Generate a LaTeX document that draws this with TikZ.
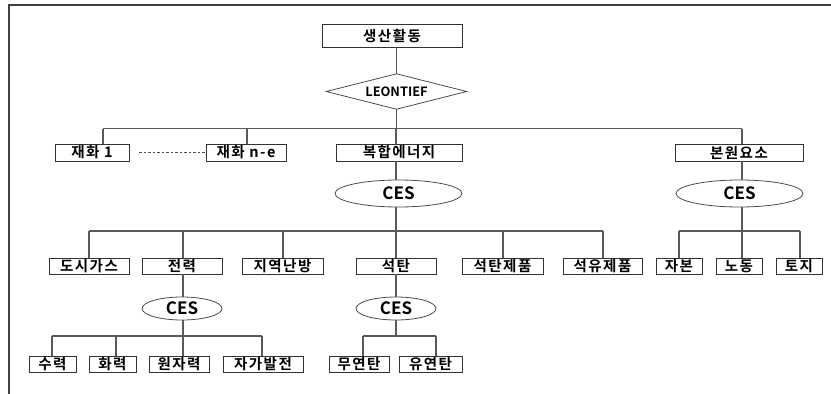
\documentclass[tikz,border=0pt]{standalone}
\usepackage{fontspec}
\setmainfont{Noto Sans CJK KR}[BoldFont={Noto Sans CJK KR Bold}]
\newfontfamily\krsp{Noto Sans CJK KR Bold}[LetterSpace=10]
\usetikzlibrary{shapes.geometric}
\begin{document}
\begin{tikzpicture}[x=1pt,y=-1pt,
  conn/.style={draw=black!65, line width=1.1pt},
  frame/.style={draw=black!75, line width=1.2pt},
  box/.style={draw=black!80, line width=0.9pt, inner sep=0pt, minimum height=16pt, font=\krsp\fontsize{14.5}{15}\selectfont},
  ces/.style={ellipse, draw=black!70, line width=0.8pt, inner sep=0pt, font=\bfseries\fontsize{17}{18}\selectfont}
]
\useasboundingbox (0,0) rectangle (831,394);
% frame
\coordinate (fTL) at (9,5);
\coordinate (fTR) at (831,5);
\coordinate (fBL) at (9,394);
\draw[frame] (fTR) -- (fTL) -- (fBL);

% top
\node[box, minimum width=140pt, minimum height=23pt] (top) at (392,36) {생산활동};
\node[inner sep=0pt, minimum width=140pt, minimum height=35pt, font=\bfseries\fontsize{12.8}{14}\selectfont] (leo) at (396.5,91.5) {LEONTIEF};
\draw[draw=black!70, line width=0.8pt] (leo.west) -- (leo.north) -- (leo.east) -- (leo.south) -- cycle;
\draw[conn] (leo.north |- top.south) -- (leo.north);

% level 1
\node[box, minimum width=74pt, minimum height=17pt] (g1) at (92,152.5) {재화 1};
\node[box, minimum width=80pt, minimum height=17pt] (gn) at (246,152.5) {재화 n-e};
\node[box, minimum width=126pt, minimum height=17pt] (bh) at (399,152.5) {복합에너지};
\node[box, minimum width=128pt, minimum height=17pt] (bw) at (739,152.5) {본원요소};
\draw[draw=black!70, line width=0.8pt, dash pattern=on 2.5pt off 2pt] (g1.east) ++(10,0) coordinate (dA) -- (gn.west) ++(-15,0) coordinate (dB);

\coordinate (b1L) at (103,128.7);
\coordinate (b1R) at (742,128.7);
\coordinate (b1n) at (247,128.7);
\coordinate (b1b) at (396,128.7);
\draw[conn] (b1L) -- (b1R);
\draw[conn] (leo.south) -- (leo.south |- b1L);
\draw[conn] (b1L) -- (b1L |- g1.north);
\draw[conn] (b1n) -- (b1n |- gn.north);
\draw[conn] (b1b) -- (b1b |- bh.north);
\draw[conn] (b1R) -- (b1R |- bw.north);

% CES level 1
\node[ces, minimum width=127pt, minimum height=27pt] (c1) at (398.5,193.5) {CES};
\node[ces, minimum width=127pt, minimum height=27pt] (c2) at (739.5,193.5) {CES};
\draw[conn] (b1b |- bh.south) -- (b1b |- c1.north);
\draw[conn] (b1R |- bw.south) -- (b1R |- c2.north);

% level 2
\node[box, minimum width=80pt] (dosi) at (89,266) {도시가스};
\node[box, minimum width=80pt] (jr) at (182,266) {전력};
\node[box, minimum width=81pt] (jy) at (282.5,266) {지역난방};
\node[box, minimum width=80pt] (st) at (396,266) {석탄};
\node[box, minimum width=81pt] (stj) at (502.5,266) {석탄제품};
\node[box, minimum width=79pt] (syj) at (602.5,266) {석유제품};
\node[box, minimum width=46pt] (jb) at (679,266) {자본};
\node[box, minimum width=46pt] (nd) at (739,266) {노동};
\node[box, minimum width=46pt] (tj) at (799,266) {토지};

\coordinate (b2L) at (89,231);
\coordinate (b2R) at (603,231);
\coordinate (b2a) at (183,231);
\coordinate (b2b) at (283,231);
\coordinate (b2c) at (396,231);
\coordinate (b2d) at (503,231);
\draw[conn] (b2L) -- (b2R);
\draw[conn] (b2c |- c1.south) -- (b2c);
\draw[conn] (b2L) -- (b2L |- dosi.north);
\draw[conn] (b2a) -- (b2a |- jr.north);
\draw[conn] (b2b) -- (b2b |- jy.north);
\draw[conn] (b2c) -- (b2c |- st.north);
\draw[conn] (b2d) -- (b2d |- stj.north);
\draw[conn] (b2R) -- (b2R |- syj.north);

\coordinate (b3L) at (679,231);
\coordinate (b3M) at (742,231);
\coordinate (b3R) at (800,231);
\draw[conn] (b3L) -- (b3R);
\draw[conn] (b3M |- c2.south) -- (b3M);
\draw[conn] (b3L) -- (b3L |- jb.north);
\draw[conn] (b3M) -- (b3M |- nd.north);
\draw[conn] (b3R) -- (b3R |- tj.north);

% CES level 2
\node[ces, minimum width=80pt, minimum height=23pt] (c3) at (182,308.5) {CES};
\node[ces, minimum width=80pt, minimum height=23pt] (c4) at (396,308.5) {CES};
\draw[conn] (b2a |- jr.south) -- (b2a |- c3.north);
\draw[conn] (b2c |- st.south) -- (b2c |- c4.north);

% level 3
\node[box, minimum width=47pt] (sr) at (52.5,364) {수력};
\node[box, minimum width=47pt] (hr) at (112.5,364) {화력};
\node[box, minimum width=60pt] (wj) at (179,364) {원자력};
\node[box, minimum width=80pt] (jg) at (263,364) {자가발전};
\node[box, minimum width=60pt] (my) at (359,364) {무연탄};
\node[box, minimum width=63pt] (yy) at (430.5,364) {유연탄};

\coordinate (b4L) at (52,336);
\coordinate (b4a) at (116,336);
\coordinate (b4b) at (183,336);
\coordinate (b4R) at (262,336);
\draw[conn] (b4L) -- (b4R);
\draw[conn] (b4b |- c3.south) -- (b4b);
\draw[conn] (b4L) -- (b4L |- sr.north);
\draw[conn] (b4a) -- (b4a |- hr.north);
\draw[conn] (b4b) -- (b4b |- wj.north);
\draw[conn] (b4R) -- (b4R |- jg.north);

\coordinate (b5L) at (363,336);
\coordinate (b5M) at (396,336);
\coordinate (b5R) at (436,336);
\draw[conn] (b5L) -- (b5R);
\draw[conn] (b5M |- c4.south) -- (b5M);
\draw[conn] (b5L) -- (b5L |- my.north);
\draw[conn] (b5R) -- (b5R |- yy.north);
\end{tikzpicture}
\end{document}
